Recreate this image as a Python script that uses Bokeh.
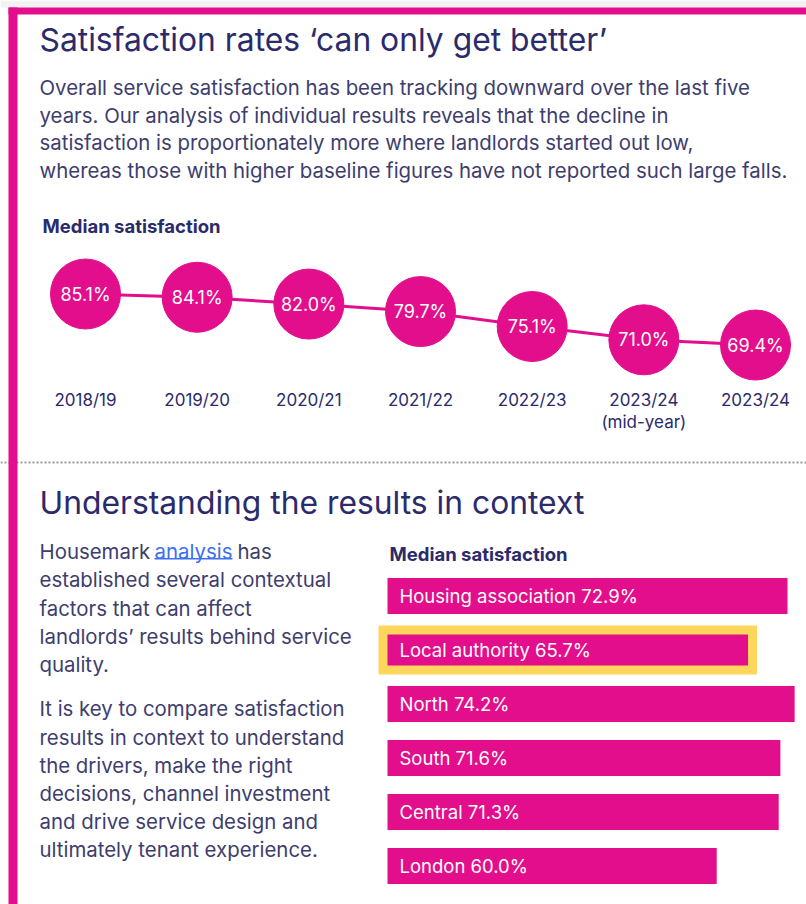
from bokeh.plotting import figure
from bokeh.models import Range1d, Label, Span, BoxAnnotation, ColumnDataSource
from bokeh.core.properties import value
from bokeh.embed import file_html
from bokeh.resources import INLINE

# ---------------- data ----------------
years = ["2018/19", "2019/20", "2020/21", "2021/22", "2022/23", "2023/24", "2023/24"]
year_notes = ["", "", "", "", "", "(mid-year)", ""]
median_sat = [85.1, 84.1, 82.0, 79.7, 75.1, 71.0, 69.4]

groups = ["Housing association", "Local authority", "North", "South", "Central", "London"]
group_sat = [72.9, 65.7, 74.2, 71.6, 71.3, 60.0]
highlight = "Local authority"

title1 = "Satisfaction rates \u2018can only get better\u2019"
para1 = [
    "Overall service satisfaction has been tracking downward over the last five",
    "years. Our analysis of individual results reveals that the decline in",
    "satisfaction is proportionately more where landlords started out low,",
    "whereas those with higher baseline figures have not reported such large falls.",
]
chart_label = "Median satisfaction"
title2 = "Understanding the results in context"
para2_first = ["Housemark", "analysis", "has"]
para2 = [
    "established several contextual",
    "factors that can affect",
    "landlords\u2019 results behind service",
    "quality.",
]
para3 = [
    "It is key to compare satisfaction",
    "results in context to understand",
    "the drivers, make the right",
    "decisions, channel investment",
    "and drive service design and",
    "ultimately tenant experience.",
]

# ---------------- style ----------------
FONT = "Inter"
PINK = "#E20E8B"
NAVY = "#2B2A6B"
BODY = "#3E3D6E"
YELLOW = "#FDD65B"
LINK = "#3D6FF0"
W, H = 806, 904
BODY_PX = 20.4
TITLE_PX = 31.8

p = figure(width=W, height=H, x_range=Range1d(0, W), y_range=Range1d(H, 0),
           output_backend="svg", toolbar_location=None, min_border=0)
p.axis.visible = False
p.grid.visible = False
p.outline_line_color = None
p.background_fill_color = "white"
p.border_fill_color = "white"

# bubble chart ranges (index on x, % on y)
bx0, bstep = 85.0, 111.67
p.extra_x_ranges["bx"] = Range1d(-bx0 / bstep, (W - bx0) / bstep)
by_val, by_px, by_k = 85.1, 293.5, 3.25
p.extra_y_ranges["by"] = Range1d(by_val - (H - by_px) / by_k, by_val + by_px / by_k)

# bar chart ranges (% on x, index on y)
rx0, rk = 387.0, 5.487
p.extra_x_ranges["rx"] = Range1d(-rx0 / rk, (W - rx0) / rk)
ry0, rstep = 595.5, 54.0
p.extra_y_ranges["ry"] = Range1d((H - ry0) / rstep, -ry0 / rstep)

# separator + frame
p.add_layout(BoxAnnotation(top=0, bottom=7, fill_color="#F2F2F2", fill_alpha=1, line_alpha=0))
p.add_layout(Span(location=462, dimension="width", line_color="#9A9A9A",
                  line_width=2, line_dash="2 2"))
p.add_layout(BoxAnnotation(left=8, right=17, top=7, bottom=H, fill_color=PINK,
                           fill_alpha=1, line_alpha=0))
p.add_layout(BoxAnnotation(left=8, right=W, top=7, bottom=14, fill_color=PINK,
                           fill_alpha=1, line_alpha=0))

def lab(x, y, t, size, color=BODY, style="normal"):
    p.add_layout(Label(x=x, y=y, text=t, text_font=FONT, text_font_size=f"{size}px",
                       text_color=color, text_font_style=style,
                       text_baseline="middle", text_align="left"))

# top section text
lab(39, 38.5, title1, TITLE_PX, NAVY)
for i, line in enumerate(para1):
    lab(39, 87.0 + i * 27.7, line, BODY_PX)
lab(42, 225.0, chart_label, 18.5, NAVY, "bold")

# bubble chart
idx = list(range(len(years)))
bsrc = ColumnDataSource(dict(x=idx, y=median_sat,
                             lbl=[f"{v:.1f}%" for v in median_sat],
                             yr=years, note=year_notes))
p.line("x", "y", source=bsrc, line_color=PINK, line_width=3,
       x_range_name="bx", y_range_name="by")
p.scatter("x", "y", source=bsrc, size=70, fill_color=PINK, line_color=PINK,
          x_range_name="bx", y_range_name="by")
p.text("x", "y", text="lbl", source=bsrc, text_color="white",
       text_font=value(FONT), text_font_size="18px", text_align="center",
       text_baseline="middle", x_range_name="bx", y_range_name="by")
p.text("x", 399, text="yr", source=bsrc, text_color=NAVY,
       text_font=value(FONT), text_font_size="17px", text_align="center",
       text_baseline="middle", x_range_name="bx")
p.text("x", 421, text="note", source=bsrc, text_color=NAVY,
       text_font=value(FONT), text_font_size="17px", text_align="center",
       text_baseline="middle", x_range_name="bx")

# lower section text
lab(39, 501.5, title2, TITLE_PX, NAVY)
lab(39, 551, para2_first[0], BODY_PX)
lab(154, 551, para2_first[1], BODY_PX, LINK)
lab(237, 551, para2_first[2], BODY_PX)
p.add_layout(BoxAnnotation(left=154, right=232, top=557.5, bottom=559, fill_color=LINK,
                           fill_alpha=1, line_alpha=0))
for i, line in enumerate(para2):
    lab(39, 579.3 + i * 28.2, line, BODY_PX)
for i, line in enumerate(para3):
    lab(39, 708.3 + i * 28.2, line, BODY_PX)
lab(389, 553.6, chart_label, 18.5, NAVY, "bold")

# bar chart
ridx = list(range(len(groups)))
is_hl = [g == highlight for g in groups]
rsrc = ColumnDataSource(dict(y=ridx, right=group_sat, left=[0] * len(groups),
                             h=[31 / rstep if f else 36 / rstep for f in is_hl],
                             lbl=[f"{g} {v:.1f}%" for g, v in zip(groups, group_sat)]))
hl_src = ColumnDataSource(dict(y=[i for i in ridx if is_hl[i]],
                               right=[group_sat[i] for i in ridx if is_hl[i]]))
p.hbar(y="y", left=0, right="right", height=31 / rstep, source=hl_src,
       fill_color=YELLOW, line_color=YELLOW, line_width=18, line_join="miter",
       x_range_name="rx", y_range_name="ry")
p.hbar(y="y", left=0, right="right", height="h", source=rsrc,
       fill_color=PINK, line_color=None, x_range_name="rx", y_range_name="ry")
p.text("left", "y", text="lbl", source=rsrc, text_color="white",
       text_font=value(FONT), text_font_size="18.5px", text_align="left",
       text_baseline="middle", x_offset=12, x_range_name="rx", y_range_name="ry")

open("out.html", "w").write(file_html(p, INLINE))
